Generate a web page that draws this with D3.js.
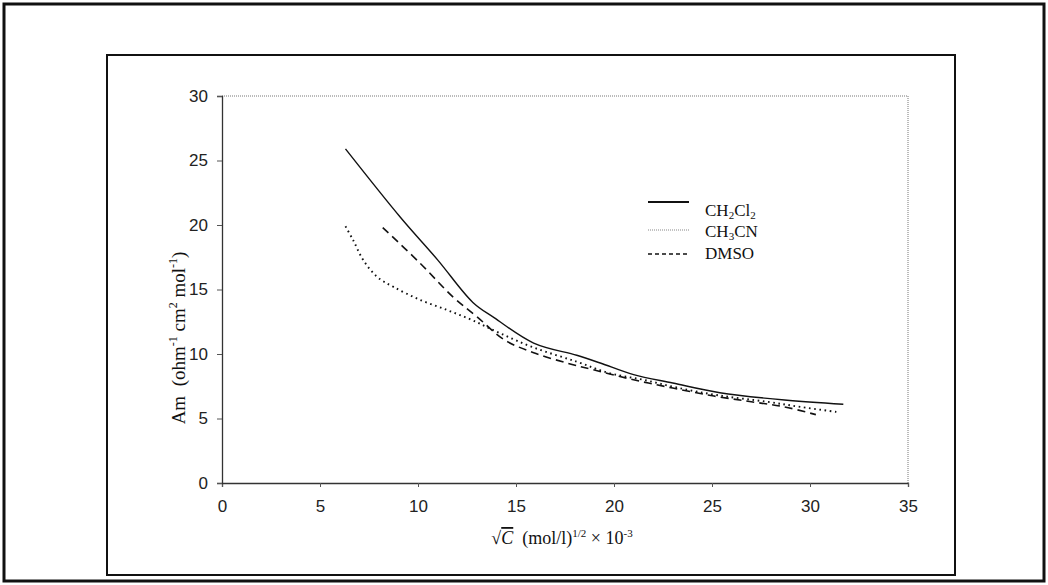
<!DOCTYPE html>
<html>
<head>
<meta charset="utf-8">
<script src="https://cdn.jsdelivr.net/npm/d3@7"></script>
<style>
  body { margin: 0; background: #fff; }
  svg { display: block; }
  .tick-label { font-family: "Liberation Sans", Arial, sans-serif; font-size: 17px; fill: #222; }
  .serif { font-family: "Liberation Serif", "Times New Roman", serif; fill: #111; white-space: pre; }
</style>
</head>
<body>
<div id="chart"></div>
<script>
// series
const ch2cl2X = [6.3, 9.1, 11.0, 12.8, 13.9, 15.9, 18.1, 19.3, 21.0, 23.0, 25.4, 28.7, 31.7];
const ch2cl2Y = [25.9, 20.6, 17.3, 14.0, 12.8, 10.85, 9.9, 9.3, 8.4, 7.75, 7.0, 6.43, 6.1];

const ch3cnX = [6.3, 6.7, 7.2, 7.9, 8.75, 10.1, 11.5, 12.8, 14.2, 15.9, 18.1, 19.8, 21.5, 23.2, 25.3, 27.8, 29.5, 31.4];
const ch3cnY = [19.9, 18.8, 17.3, 16.0, 15.2, 14.2, 13.4, 12.6, 11.6, 10.5, 9.4, 8.5, 8.0, 7.4, 6.8, 6.3, 5.9, 5.5];

const dmsoX = [8.2, 10.1, 11.8, 13.0, 14.4, 15.9, 17.6, 19.0, 21.0, 23.0, 25.1, 27.0, 28.7, 30.3];
const dmsoY = [19.8, 17.05, 14.4, 12.9, 11.1, 10.1, 9.3, 8.76, 8.0, 7.36, 6.74, 6.3, 5.9, 5.3];

const xTicks = [0, 5, 10, 15, 20, 25, 30, 35];
const yTicks = [0, 5, 10, 15, 20, 25, 30];

const W = 1048, H = 585;
const svg = d3.select("#chart").append("svg").attr("width", W).attr("height", H);

// outer photo border and inner frame
svg.append("rect").attr("x", 4).attr("y", 4).attr("width", W - 8).attr("height", H - 8)
    .attr("fill", "none").attr("stroke", "#111").attr("stroke-width", 3);
svg.append("rect").attr("x", 107).attr("y", 55).attr("width", 848).attr("height", 520)
    .attr("fill", "none").attr("stroke", "#111").attr("stroke-width", 2);

const x = d3.scaleLinear().domain([0, 35]).range([222, 908]);
const y = d3.scaleLinear().domain([0, 30]).range([483, 96]);

// plot box: top/right are faint dotted
svg.append("line").attr("x1", x(0)).attr("x2", x(35)).attr("y1", y(30)).attr("y2", y(30))
    .attr("stroke", "#777").attr("stroke-width", 1).attr("stroke-dasharray", "1 1");
svg.append("line").attr("x1", x(35)).attr("x2", x(35)).attr("y1", y(30)).attr("y2", y(0))
    .attr("stroke", "#777").attr("stroke-width", 1).attr("stroke-dasharray", "1 1");

const xAxis = svg.append("g").attr("transform", `translate(0,${y(0)})`)
    .call(d3.axisBottom(x).tickValues(xTicks).tickSize(4).tickPadding(13).tickFormat(d3.format("d")));
const yAxis = svg.append("g").attr("transform", `translate(${x(0)},0)`)
    .call(d3.axisLeft(y).tickValues(yTicks).tickSize(5).tickPadding(9).tickFormat(d3.format("d")));
[xAxis, yAxis].forEach(a => {
    a.select(".domain").attr("stroke", "#333").attr("stroke-width", 1.3);
    a.selectAll(".tick line").attr("stroke", "#555");
    a.selectAll(".tick text").attr("class", "tick-label").attr("fill", null);
});

// series
const series = [
    { xs: ch2cl2X, ys: ch2cl2Y, dash: null, width: 1.4 },
    { xs: ch3cnX, ys: ch3cnY, dash: "1.6 3.6", width: 1.9 },
    { xs: dmsoX, ys: dmsoY, dash: "8 5", width: 1.6 }
];
const line = d3.line().x(d => x(d[0])).y(d => y(d[1])).curve(d3.curveCatmullRom.alpha(0.5));
series.forEach(s => {
    svg.append("path")
        .datum(s.xs.map((v, i) => [v, s.ys[i]]))
        .attr("d", line)
        .attr("fill", "none")
        .attr("stroke", "#111")
        .attr("stroke-width", s.width)
        .attr("stroke-dasharray", s.dash);
});

// legend
const legend = svg.append("g");
const legendRows = [
    { y1: 202, ty: 216, dash: null, color: "#111", w: 1.8, main: "CH", parts: [["2", true], ["Cl", false], ["2", true]] },
    { y1: 230, ty: 237, dash: "1 1", color: "#888", w: 1.2, main: "CH", parts: [["3", true], ["CN", false]] },
    { y1: 254, ty: 259, dash: "4 3", color: "#111", w: 1.3, main: "DMSO", parts: [] }
];
legendRows.forEach(r => {
    legend.append("line").attr("x1", 648).attr("x2", 689).attr("y1", r.y1).attr("y2", r.y1)
        .attr("stroke", r.color).attr("stroke-width", r.w).attr("stroke-dasharray", r.dash);
    const t = legend.append("text").attr("class", "serif").attr("x", 705).attr("y", r.ty)
        .attr("font-size", 17).text(r.main);
    r.parts.forEach(p => {
        t.append("tspan").attr("font-size", p[1] ? 11 : 17).attr("dy", p[1] ? 3 : -3).text(p[0]);
    });
});

// y axis title
const yt = svg.append("text").attr("class", "serif").attr("font-size", 19)
    .attr("transform", "translate(185,338) rotate(-90)").attr("text-anchor", "middle");
yt.append("tspan").text("Am  (ohm");
yt.append("tspan").attr("font-size", 12).attr("dy", -8).text("-1");
yt.append("tspan").attr("dy", 8).text(" cm");
yt.append("tspan").attr("font-size", 12).attr("dy", -8).text("2");
yt.append("tspan").attr("dy", 8).text(" mol");
yt.append("tspan").attr("font-size", 12).attr("dy", -8).text("-1");
yt.append("tspan").attr("dy", 8).text(")");

// x axis title
const xt = svg.append("text").attr("class", "serif").attr("font-size", 18)
    .attr("x", 562).attr("y", 544).attr("text-anchor", "middle");
xt.append("tspan").text("\u221A");
xt.append("tspan").attr("font-style", "italic").attr("text-decoration", "overline").text("C");
xt.append("tspan").text("  (mol/l)");
xt.append("tspan").attr("font-size", 11).attr("dy", -7).text("1/2");
xt.append("tspan").attr("dy", 7).text(" \u00D7 10");
xt.append("tspan").attr("font-size", 11).attr("dy", -7).text("-3");
</script>
</body>
</html>
